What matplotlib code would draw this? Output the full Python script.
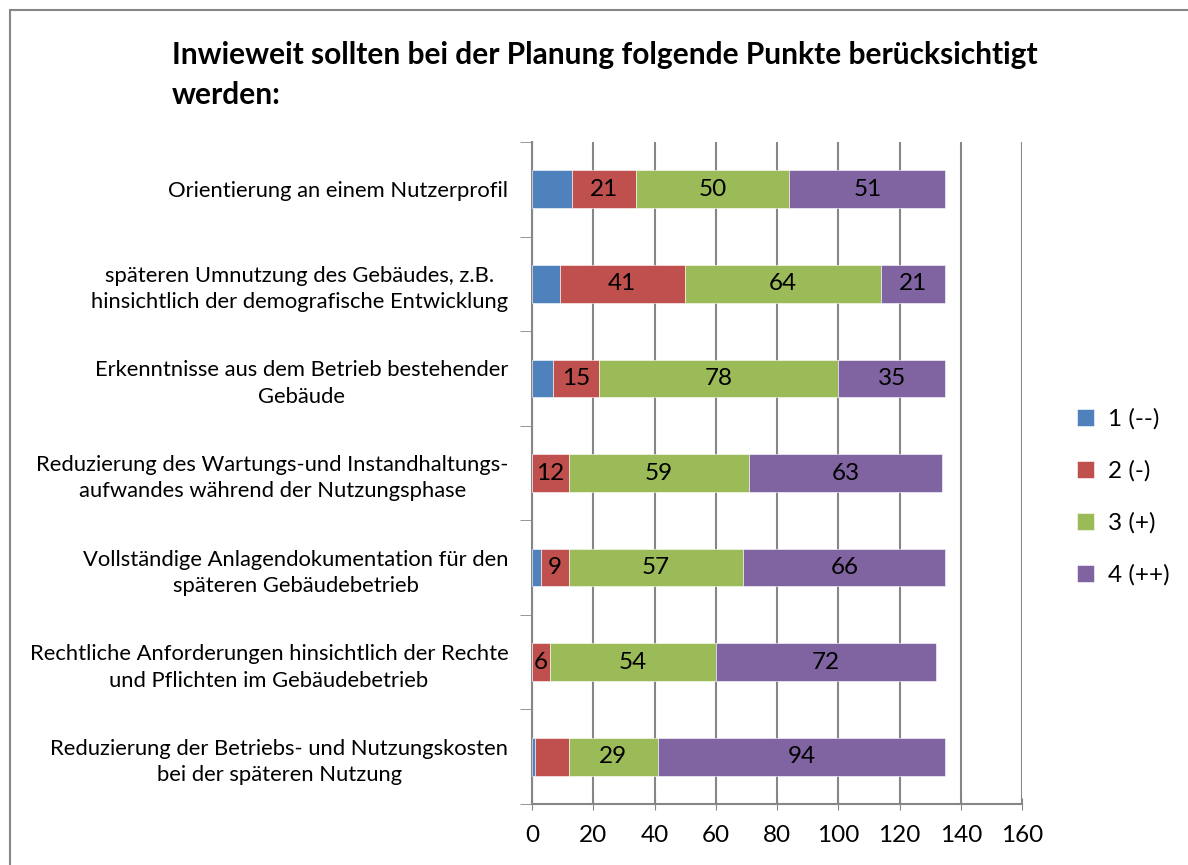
import matplotlib.pyplot as plt
from matplotlib.patches import Rectangle

plt.rcParams['font.family'] = ['Lato', 'DejaVu Sans']

categories = [
    "Orientierung an einem Nutzerprofil",
    "späteren Umnutzung des Gebäudes, z.B.\nhinsichtlich der demografische Entwicklung",
    "Erkenntnisse aus dem Betrieb bestehender\nGebäude",
    "Reduzierung des Wartungs-und Instandhaltungs-\naufwandes während der Nutzungsphase",
    "Vollständige Anlagendokumentation für den\nspäteren Gebäudebetrieb",
    "Rechtliche Anforderungen hinsichtlich der Rechte\nund Pflichten im Gebäudebetrieb",
    "Reduzierung der Betriebs- und Nutzungskosten\nbei der späteren Nutzung",
]
series_names = ["1 (--)", "2 (-)", "3 (+)", "4 (++)"]
v1 = [13, 9, 7, 0, 3, 0, 1]
v2 = [21, 41, 15, 12, 9, 6, 11]
v3 = [50, 64, 78, 59, 57, 54, 29]
v4 = [51, 21, 35, 63, 66, 72, 94]
# which segments carry a value label
show1 = [False] * 7
show2 = [True, True, True, True, True, True, False]
show3 = [True] * 7
show4 = [True] * 7

colors = ["#4F81BD", "#C0504D", "#9BBB59", "#8064A2"]

fig = plt.figure(figsize=(11.88, 8.65), dpi=100)
fig.patches.append(Rectangle((10 / 1188, -0.1), 1.2, 1 - 10 / 865 + 0.1,
                             transform=fig.transFigure, fill=False,
                             edgecolor="#868686", linewidth=1.5))
ax = fig.add_axes([532 / 1188, 1 - 804 / 865, 490 / 1188, (804 - 142) / 865])

n = len(categories)
ypos = list(range(n))
left = [0] * n
for vals, show, col, name in zip([v1, v2, v3, v4], [show1, show2, show3, show4],
                                 colors, series_names):
    ax.barh(ypos, vals, left=left, height=0.40, color=col, label=name,
            edgecolor="white", linewidth=0.4, zorder=3)
    for i in range(n):
        if show[i] and vals[i] > 0:
            ax.text(left[i] + vals[i] / 2, ypos[i], str(vals[i]), ha="center",
                    va="center", fontsize=17.5, zorder=4)
    left = [a + b for a, b in zip(left, vals)]

ax.set_xlim(0, 160)
ax.set_ylim(n - 0.5, -0.5)
ax.set_xticks(range(0, 161, 20))
ax.tick_params(axis="x", labelsize=17.5, length=8, direction="inout",
               color="#868686", pad=11)
ax.set_yticks(ypos)
ax.set_yticklabels(categories, fontsize=15.8, multialignment="center",
                   linespacing=1.4)
ax.tick_params(axis="y", length=0, pad=17)
ax.set_yticks([i - 0.5 for i in range(n + 1)], minor=True)
ax.tick_params(axis="y", which="minor", length=9, color="#868686")
ax.grid(axis="x", color="#868686", linewidth=1.5, zorder=0)
for s in ["top", "right"]:
    ax.spines[s].set_visible(False)
ax.spines["left"].set_color("#868686")
ax.spines["bottom"].set_color("#868686")
ax.spines["left"].set_linewidth(1.5)
ax.spines["bottom"].set_linewidth(1.5)

fig.text(172 / 1188, 1 - 75 / 865,
         "Inwieweit sollten bei der Planung folgende Punkte berücksichtigt\nwerden:",
         fontsize=21.5, fontweight="bold", ha="left", va="center", linespacing=1.5)

fig.legend(loc="center left", bbox_to_anchor=(1055 / 1188, 1 - 497 / 865),
           frameon=False, fontsize=17.5, handlelength=0.7, handleheight=0.7,
           labelspacing=1.25, handletextpad=0.6)

fig.savefig("out.png", dpi=100)
